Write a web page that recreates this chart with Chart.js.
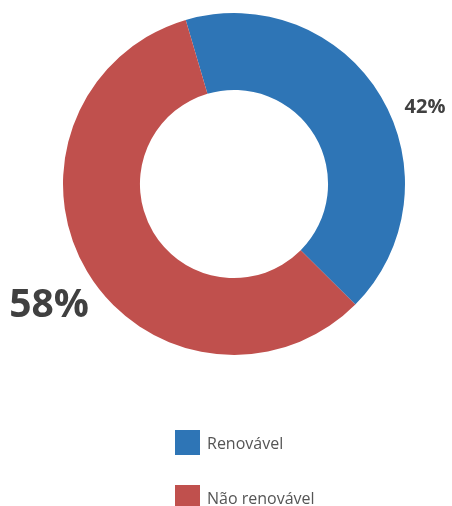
<!DOCTYPE html>
<html>
<head>
<meta charset="utf-8">
<script src="https://cdn.jsdelivr.net/npm/chart.js@4"></script>
<style>
  html, body { margin: 0; padding: 0; background: #fff; }
  #wrap { position: relative; width: 452px; height: 506px; }
  #legend { position: absolute; left: 175px; top: 430px; font-family: "Open Sans", sans-serif; font-size: 16px; color: #555; }
  .item { display: flex; align-items: center; height: 25px; margin-bottom: 30px; }
  .box { width: 25px; height: 25px; margin-right: 7px; }
</style>
</head>
<body>
<div id="wrap">
  <canvas id="energy_chart" width="452" height="506"></canvas>
  <div id="legend"></div>
</div>
<script>
labels = ['Renovável', 'Não renovável']
values = [42, 58]
colors = ['#2E75B6', '#C0504D']

// percentage labels sit outside the ring, one per slice
pctLabels = {
    id: 'pctLabels',
    afterDatasetsDraw(chart) {
        const ctx = chart.ctx
        const total = values.reduce((a, b) => a + b, 0)
        const spots = [
            { dx: 191, dy: -77, size: 20 },
            { dx: -185, dy: 122, size: 39 },
        ]
        const arc = chart.getDatasetMeta(0).data[0]
        ctx.save()
        ctx.fillStyle = '#404040'
        ctx.textAlign = 'center'
        ctx.textBaseline = 'middle'
        values.forEach((v, i) => {
            ctx.font = 'bold ' + spots[i].size + 'px "Open Sans", sans-serif'
            ctx.fillText(Math.round(v / total * 100) + '%', arc.x + spots[i].dx, arc.y + spots[i].dy)
        })
        ctx.restore()
    }
}

config = {
    type: 'doughnut',
    data: {
        labels,
        datasets: [{
            data: values,
            backgroundColor: colors,
            borderWidth: 0,
        }]
    },
    options: {
        responsive: false,
        animation: false,
        cutout: '55%',
        rotation: -16.4,
        layout: { padding: { left: 63, right: 47, top: 13, bottom: 151 } },
        plugins: {
            legend: { display: false },
            tooltip: { enabled: false },
        },
    },
    plugins: [pctLabels]
};

new Chart(document.getElementById('energy_chart'), config);

legendEl = document.getElementById('legend')
labels.forEach((l, i) => {
    legendEl.innerHTML += '<div class="item"><div class="box" style="background:' + colors[i] + '"></div>' + l + '</div>'
})
</script>
</body>
</html>
